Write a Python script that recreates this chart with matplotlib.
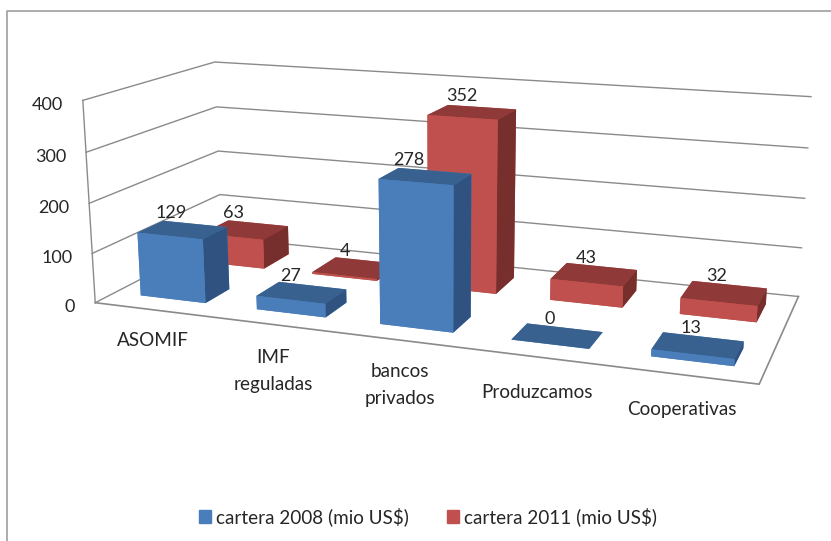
import numpy as np
import matplotlib
matplotlib.use("Agg")
import matplotlib.pyplot as plt
from matplotlib.lines import Line2D
from matplotlib.patches import Patch

categories = ["ASOMIF", "IMF\nreguladas", "bancos\nprivados", "Produzcamos", "Cooperativas"]
cartera_2008 = [129, 27, 278, 0, 13]
cartera_2011 = [63, 4, 352, 43, 32]
series_names = ["cartera 2008 (mio US$)", "cartera 2011 (mio US$)"]
z_ticks = [0, 100, 200, 300, 400]

W, H = 831, 541
plt.rcParams["font.family"] = ["Lato", "DejaVu Sans"]
FS = 13.0
FS_TXT = 13.6
TXT = "#262626"
GRID = "#8a8a8a"

# camera calibration: chart-box corners (world) against picture pixels
calib = [
    ((0, 0, 400), (82, 100.7)), ((0, 0, 300), (86, 152.3)), ((0, 0, 200), (90, 203.3)),
    ((0, 0, 100), (92.3, 253.3)), ((0, 0, 0), (95, 302.7)),
    ((0, 1, 400), (215, 62)), ((0, 1, 300), (216.7, 106.7)), ((0, 1, 200), (218.3, 151)),
    ((0, 1, 100), (219.3, 194.7)),
    ((5, 1, 400), (811, 96.7)), ((5, 1, 300), (807.7, 147.7)), ((5, 1, 200), (804.7, 198.3)),
    ((5, 1, 100), (801.7, 248)), ((5, 1, 0), (798.3, 296.7)),
    ((5, 0, 0), (759.3, 384)),
]


def solve_camera():
    A = []
    for (x, y, z), (u, v) in calib:
        v = H - v
        p = [x, y, z / 100.0, 1]
        A.append(p + [0, 0, 0, 0] + [-u * c for c in p])
        A.append([0, 0, 0, 0] + p + [-v * c for c in p])
    P = np.linalg.svd(np.array(A, float))[2][-1].reshape(3, 4)
    P[:, 2] /= 100.0
    if P[2] @ np.array([2.5, 0.5, 200, 1]) < 0:
        P = -P
    return P


CAM = solve_camera()


def to_pixel(x, y, z):
    u, v, w = CAM @ np.array([x, y, z, 1.0])
    return u / w, H - v / w


def label(px, py, s, size, **kw):
    fig.text(px / W, 1 - py / H, s, ha=kw.pop("ha", "center"), va="center", fontsize=size, color=TXT, **kw)


fig = plt.figure(figsize=(W / 100, H / 100), dpi=100, facecolor="white")
ax = fig.add_axes([0, (H - W) / 2 / H, 1, W / H], projection="3d", computed_zorder=False)
ax.set_axis_off()
ax.patch.set_visible(False)


def custom_proj():
    P2 = ax.transData.inverted().get_matrix() @ CAM
    return np.array([P2[0], P2[1], [0, 0, 0, -1.0], P2[2]])


ax.get_proj = custom_proj

# walls, floor
for t in z_ticks:
    ax.plot([0, 0, 5], [0, 1, 1], [t, t, t], color=GRID, lw=1.0, zorder=1)
ax.plot([0, 0], [0, 0], [0, 400], color=GRID, lw=1.0, zorder=1)
ax.plot([0, 5, 5], [0, 0, 1], [0, 0, 0], color=GRID, lw=1.2, zorder=1)

palette = {
    0: dict(front="#4A7EBB", top="#39618F", side="#2F5280"),
    1: dict(front="#C0504D", top="#8F3A38", side="#772F2D"),
}
BAR_W = 0.565
BAR_C = 0.51
DEPTH = {0: (0.14, 0.33), 1: (0.63, 0.86)}
zo = 2
for s, vals in ((1, cartera_2011), (0, cartera_2008)):
    c = palette[s]
    y0, y1 = DEPTH[s]
    faces = [c["front"], c["top"], c["front"], c["front"], c["front"], c["side"]]
    for i, v in enumerate(vals):
        ax.bar3d(i + BAR_C - BAR_W / 2, y0, 0, BAR_W, y1 - y0, v, color=faces,
                 shade=False, zorder=zo, linewidth=0)
        zo += 1

# value labels
label_nudge = {1: [-5, -4, -3, 0, 1], 0: [-5, -4, -9, 0, 2]}
for s, vals in ((1, cartera_2011), (0, cartera_2008)):
    ymid = sum(DEPTH[s]) / 2
    for i, v in enumerate(vals):
        px, py = to_pixel(i + 0.45, ymid, v)
        label(px + label_nudge[s][i], py - 16, str(v), FS)

# value axis labels
for t in z_ticks:
    px, py = to_pixel(0, 0, t)
    label(px - 20, py + 4.5, str(t), FS, ha="right")

# category labels
cat_xy = [(153, 341), (273, 371), (400, 385), (537, 392), (682, 409)]
for lab, (px, py) in zip(categories, cat_xy):
    label(px, py, lab, FS_TXT, linespacing=1.65)

# chart frame
fig.add_artist(Line2D([7 / W, 7 / W, 1], [0, 1 - 10.5 / H, 1 - 10.5 / H], color="#a6a6a6", lw=1.3))

fig.legend(handles=[Patch(color="#4A7EBB"), Patch(color="#C0504D")], labels=series_names,
           loc="center", bbox_to_anchor=(428 / W, 1 - 517 / H), ncol=2, frameon=False,
           fontsize=13.6, handlelength=0.67, handleheight=0.67, handletextpad=0.25, columnspacing=2.0,
           labelcolor=TXT)

fig.savefig("out.png", dpi=100)
